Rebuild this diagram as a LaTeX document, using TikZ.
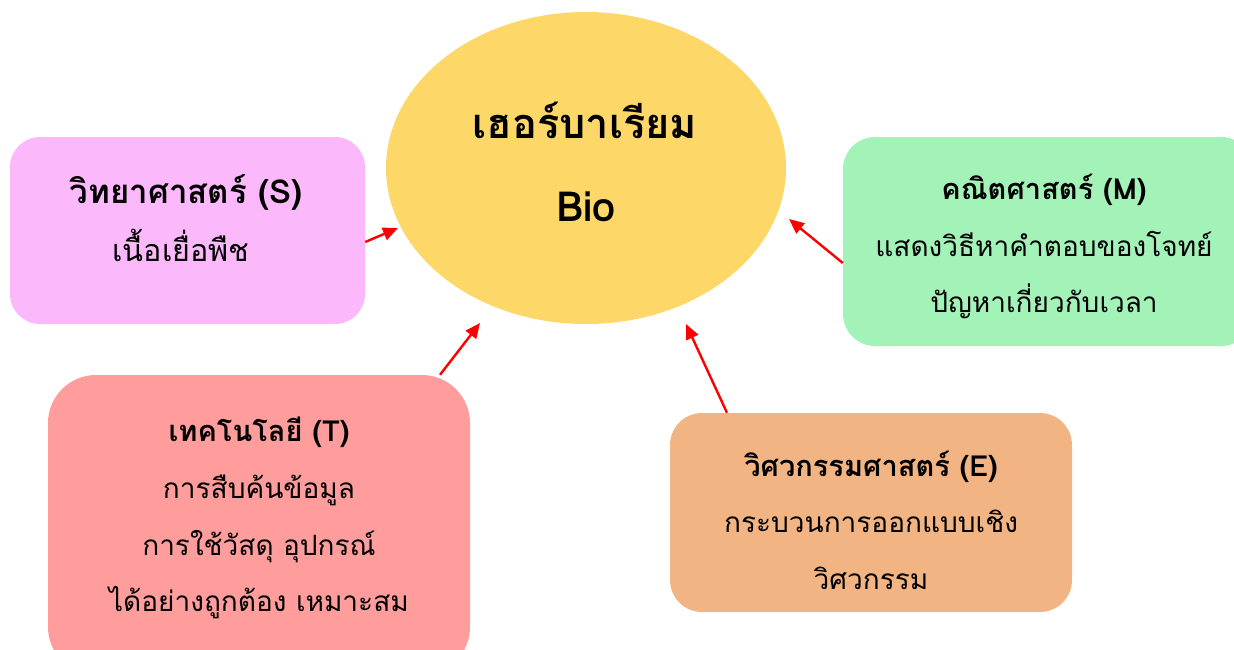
\documentclass[tikz,border=0pt]{standalone}
\usepackage{fontspec}
\newfontfamily\thai[Script=Thai]{Loma}
\usetikzlibrary{shapes.geometric,arrows.meta}
\definecolor{cS}{HTML}{FBB8FB}
\definecolor{cM}{HTML}{A3F2B8}
\definecolor{cT}{HTML}{FF9C9C}
\definecolor{cE}{HTML}{F2B482}
\definecolor{cC}{HTML}{FDD768}
\tikzset{
  box/.style={draw=none,rectangle,inner sep=0pt},
  txt/.style={anchor=base,inner sep=0pt,font=\thai\fontsize{28}{28}\selectfont},
  ttl/.style={anchor=base,inner sep=0pt,font=\thai\bfseries\fontsize{29}{29}\selectfont},
  big/.style={anchor=base,inner sep=0pt,font=\thai\bfseries\fontsize{41.5}{41.5}\selectfont},
  arr/.style={draw=red,line width=2.4pt,-{Triangle[length=15pt,width=13pt]}}
}
\begin{document}
\begin{tikzpicture}[x=1pt,y=-1pt]
\useasboundingbox (0,0) rectangle (1234,649);
\begin{scope}
\clip (0,0) rectangle (1234,649);
\node[box,fill=cC,ellipse,minimum width=400pt,minimum height=312pt] (C) at (586,168) {};
\node[box,fill=cS,rounded corners=30pt,minimum width=355pt,minimum height=187pt] (S) at (187.5,230.5) {};
\node[box,fill=cM,rounded corners=32pt,minimum width=410pt,minimum height=209pt] (M) at (1048,241.5) {};
\node[box,fill=cT,rounded corners=48pt,minimum width=422pt,minimum height=300pt] (T) at (259,525) {};
\node[box,fill=cE,rounded corners=32pt,minimum width=402pt,minimum height=199pt] (E) at (871,512.5) {};
\end{scope}
\node[big] (C1) at (585,138) {เฮอร์บาเรียม};
\node[big] (C2) at (586,221) {Bio};
\node[ttl,font=\thai\bfseries\fontsize{33}{33}\selectfont] (S1) at (186,203) {วิทยาศาสตร์ (S)};
\node[txt,font=\thai\fontsize{30.5}{30.5}\selectfont] (S2) at (181,261) {เนื้อเยื่อพืช};
\node[ttl] (M1) at (1044,199) {คณิตศาสตร์ (M)};
\node[txt] (M2) at (1044,256) {แสดงวิธีหาคำตอบของโจทย์};
\node[txt] (M3) at (1044,312) {ปัญหาเกี่ยวกับเวลา};
\node[ttl] (T1) at (259,441) {เทคโนโลยี (T)};
\node[txt] (T2) at (259,498) {การสืบค้นข้อมูล};
\node[txt] (T3) at (259,555) {การใช้วัสดุ อุปกรณ์};
\node[txt] (T4) at (259,611) {ได้อย่างถูกต้อง เหมาะสม};
\node[ttl] (E1) at (871,476) {วิศวกรรมศาสตร์ (E)};
\node[txt] (E2) at (871,532) {กระบวนการออกแบบเชิง};
\node[txt] (E3) at (871,589) {วิศวกรรม};
\coordinate (tS) at (398,228);
\coordinate (tM) at (789,219);
\coordinate (tT) at (480,323);
\coordinate (tE) at (686,324);
\draw[arr] ([yshift=-11.5pt]S.east) -- (tS);
\draw[arr] ([yshift=-21.5pt]M.west) -- (tM);
\draw[arr] ([xshift=181pt]T.north) -- (tT);
\draw[arr] ([xshift=-144pt]E.north) -- (tE);
\end{tikzpicture}
\end{document}
